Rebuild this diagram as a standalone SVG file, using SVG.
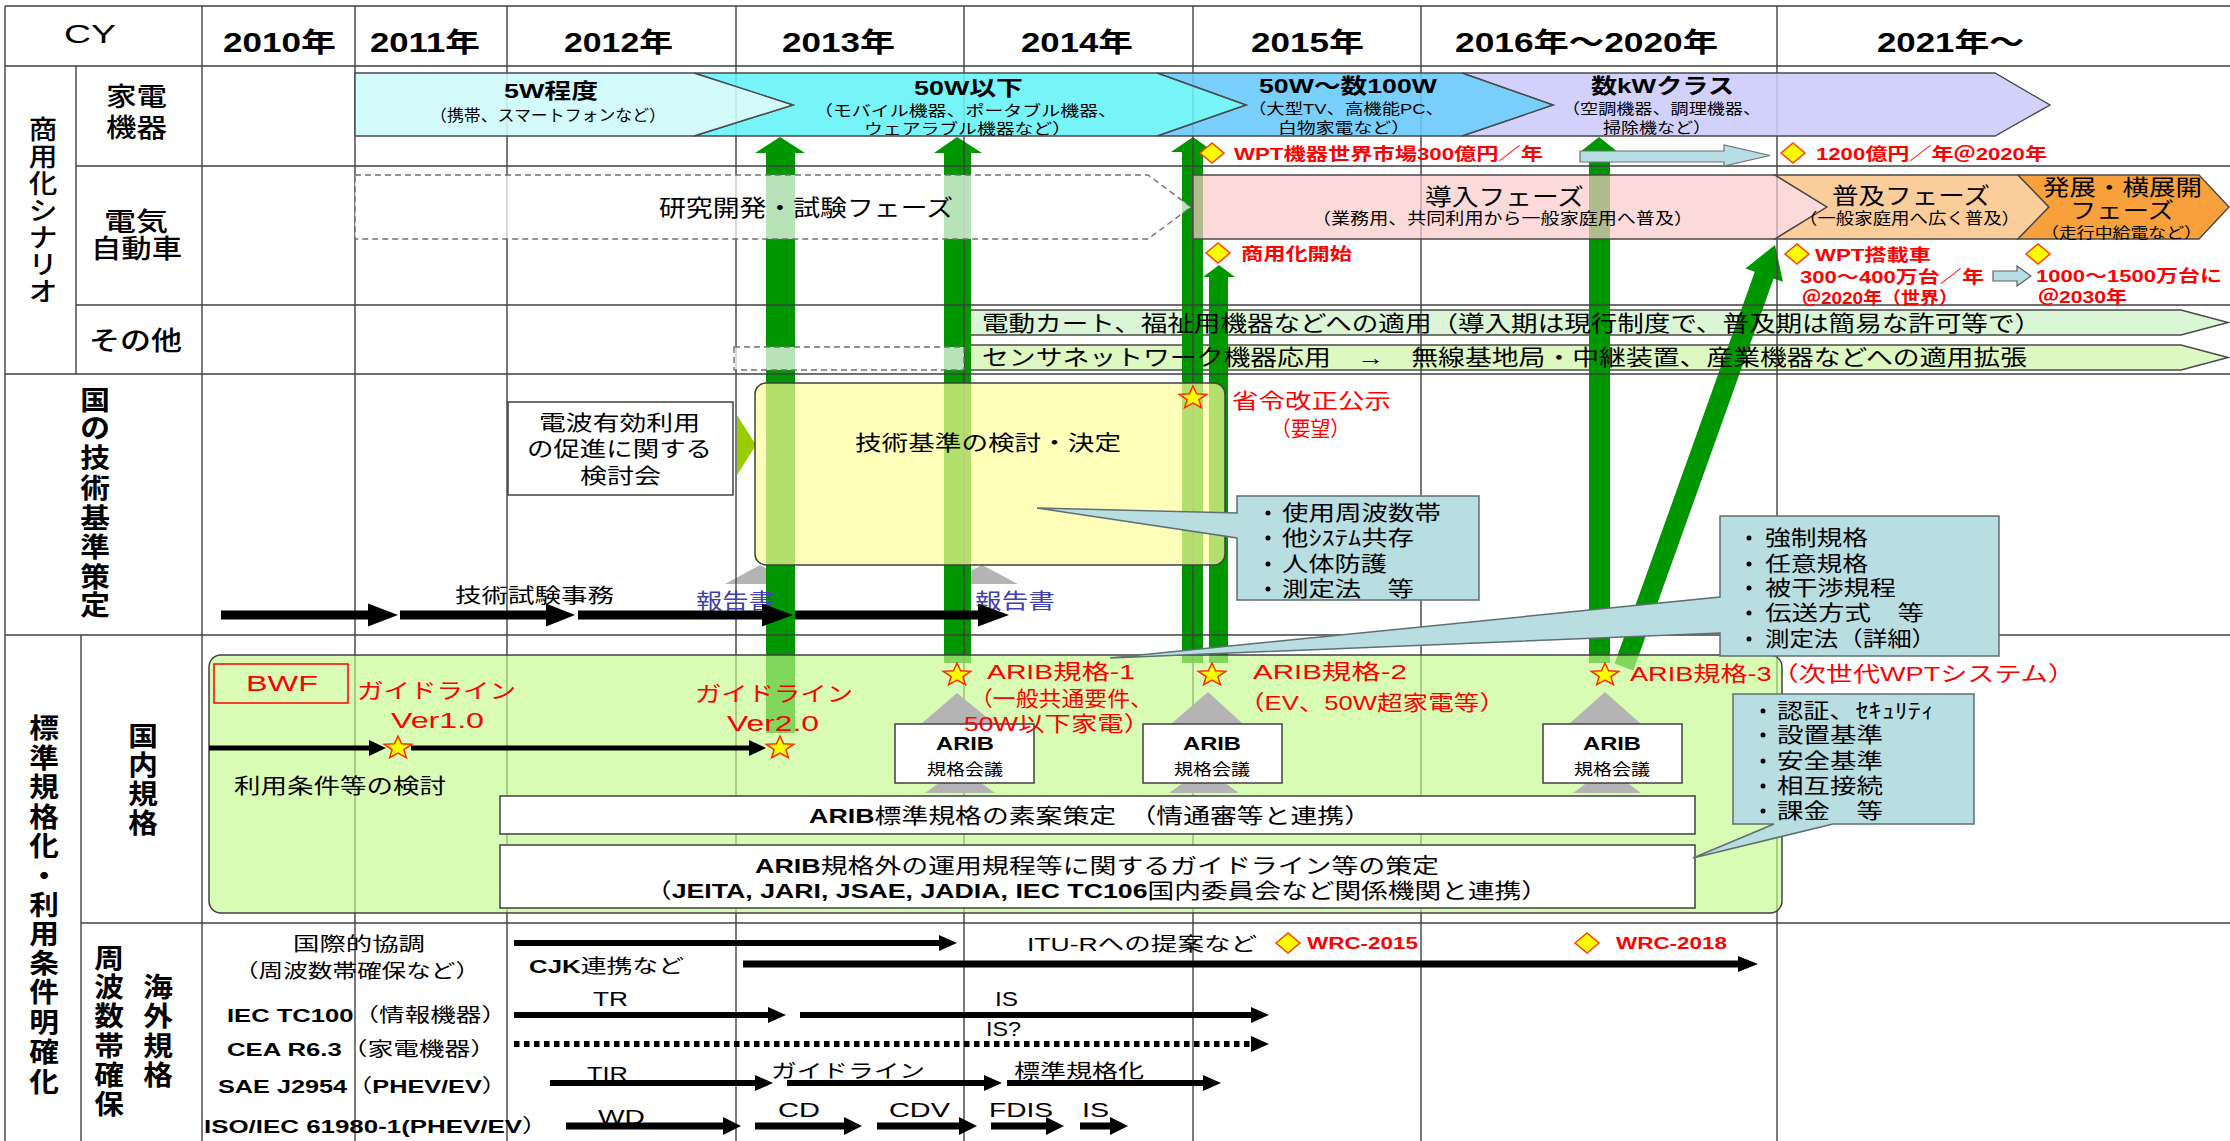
<svg xmlns="http://www.w3.org/2000/svg" width="2230" height="1141" viewBox="0 0 2230 1141">
<defs>
<style>
text{font-family:"Liberation Sans","Noto Sans CJK JP",sans-serif;fill:#000}
.b{font-weight:bold}
.md{font-weight:500}
.r{fill:#ff0000}
.bl{fill:#4040b0}
.m{text-anchor:middle}
.grid line{stroke:#404040;stroke-width:1.4}
.bar{stroke:#4a4a4a;stroke-width:1.4}
.ga{fill:#009600}
.ka{fill:#000}
.co{fill:#b9dee2;stroke:#5f6f72;stroke-width:1.5}
.tri{fill:#b4b4b4}
.wbox{fill:#fff;stroke:#404040;stroke-width:1.5}
.dash{fill:#fff;fill-opacity:.72;stroke:#707070;stroke-width:1.4;stroke-dasharray:6 4}
</style>
<path id="star" d="M0,-12 L3.6,-4.2 L13.7,-3.7 L5.9,1.6 L8.4,9.7 L0,5.1 L-8.4,9.7 L-5.9,1.6 L-13.7,-3.7 L-3.6,-4.2Z" fill="#ffff00" stroke="#ff2a00" stroke-width="1.5"/>
<path id="dia" d="M-12,0 L0,-10 L12,0 L0,10Z" fill="#ffff00" stroke="#ff4000" stroke-width="1.5"/>
</defs>

<rect width="2230" height="1141" fill="#fff"/>

<!-- その他 row bars (under the green arrows) -->
<g id="bar-cart">
<polygon class="bar" fill="#dbf6d6" points="964,310 2181,310 2228,322.5 2181,335 964,335"/>
</g>
<g id="bar-sensor">
<polygon class="bar" fill="#def8c2" points="964,345 2181,345 2228,357.5 2181,370 964,370"/>
</g>

<!-- report pointers sit under the green arrows -->
<g id="report-pointers">
<polygon class="tri" points="725,584 760,565 795,584"/>
<polygon class="tri" points="946,584 982,565 1018,584"/>
</g>

<!-- green progress arrows -->
<g id="connectors">
<polygon class="ga" points="766,733 766,153 755,153 780,137 805,153 795,153 795,733"/>
<polygon class="ga" points="944,663 944,153 934,153 957,137 982,153 971,153 971,663"/>
<polygon class="ga" points="1182,663 1182,152 1171,152 1193,137 1214,152 1203,152 1203,663"/>
<polygon class="ga" points="1209,663 1209,277 1203,277 1219,265 1235,277 1228,277 1228,663"/>
<polygon class="ga" points="1589,663 1589,152 1580,152 1599,137 1618,152 1610,152 1610,663"/>
<polygon class="ga" points="1614.6,663.6 1754.8,271.7 1745.4,268.4 1775,245 1783,281.8 1773.6,278.5 1633.4,670.4"/>
</g>

<!-- table grid -->
<g id="grid" class="grid">
<line x1="5" y1="6" x2="2230" y2="6"/>
<line x1="5" y1="66" x2="2230" y2="66"/>
<line x1="76" y1="166" x2="2230" y2="166"/>
<line x1="76" y1="305" x2="2230" y2="305"/>
<line x1="5" y1="374" x2="2230" y2="374"/>
<line x1="5" y1="635" x2="2230" y2="635"/>
<line x1="81" y1="923" x2="2230" y2="923"/>
<line x1="5" y1="6" x2="5" y2="1141"/>
<line x1="76" y1="66" x2="76" y2="374"/>
<line x1="81" y1="635" x2="81" y2="1141"/>
<line x1="202" y1="6" x2="202" y2="1141"/>
<line x1="355" y1="6" x2="355" y2="1141"/>
<line x1="507" y1="6" x2="507" y2="1141"/>
<line x1="736" y1="6" x2="736" y2="1141"/>
<line x1="964" y1="6" x2="964" y2="1141"/>
<line x1="1193" y1="6" x2="1193" y2="1141"/>
<line x1="1421" y1="6" x2="1421" y2="1141"/>
<line x1="1777" y1="6" x2="1777" y2="1141"/>
</g>

<!-- header row -->
<g id="header">
<text x="64" y="43" font-size="25" textLength="52" lengthAdjust="spacingAndGlyphs">CY</text>
<text class="b" x="223" y="52" font-size="27" textLength="113" lengthAdjust="spacingAndGlyphs">2010年</text>
<text class="b" x="370" y="52" font-size="27" textLength="110" lengthAdjust="spacingAndGlyphs">2011年</text>
<text class="b" x="564" y="52" font-size="27" textLength="109" lengthAdjust="spacingAndGlyphs">2012年</text>
<text class="b" x="782" y="52" font-size="27" textLength="113" lengthAdjust="spacingAndGlyphs">2013年</text>
<text class="b" x="1021" y="52" font-size="27" textLength="112" lengthAdjust="spacingAndGlyphs">2014年</text>
<text class="b" x="1251" y="52" font-size="27" textLength="113" lengthAdjust="spacingAndGlyphs">2015年</text>
<text class="b" x="1455" y="52" font-size="27" textLength="263" lengthAdjust="spacingAndGlyphs">2016年～2020年</text>
<text class="b" x="1877" y="52" font-size="27" textLength="147" lengthAdjust="spacingAndGlyphs">2021年～</text>
</g>

<!-- row labels -->
<g id="row-labels">
<text class="m md" font-size="26" transform="translate(43 0) scale(1.1 1)"><tspan x="0" y="139">商</tspan><tspan x="0" y="166">用</tspan><tspan x="0" y="193">化</tspan><tspan x="0" y="220">シ</tspan><tspan x="0" y="247">ナ</tspan><tspan x="0" y="274">リ</tspan><tspan x="0" y="301">オ</tspan></text>
<text class="md" x="106" y="106" font-size="26" textLength="61" lengthAdjust="spacingAndGlyphs">家電</text>
<text class="md" x="106" y="137" font-size="26" textLength="61" lengthAdjust="spacingAndGlyphs">機器</text>
<text class="md" x="104" y="231" font-size="26" textLength="64" lengthAdjust="spacingAndGlyphs">電気</text>
<text class="md" x="91" y="258" font-size="26" textLength="91" lengthAdjust="spacingAndGlyphs">自動車</text>
<text class="md" x="89" y="350" font-size="26" textLength="93" lengthAdjust="spacingAndGlyphs">その他</text>
<text class="m b" font-size="27" transform="translate(95 0) scale(1.1 1)"><tspan x="0" y="410">国</tspan><tspan x="0" y="438">の</tspan><tspan x="0" y="468">技</tspan><tspan x="0" y="498">術</tspan><tspan x="0" y="528">基</tspan><tspan x="0" y="557">準</tspan><tspan x="0" y="587">策</tspan><tspan x="0" y="615">定</tspan></text>
<text class="m b" font-size="27" transform="translate(44 0) scale(1.1 1)"><tspan x="0" y="738">標</tspan><tspan x="0" y="768">準</tspan><tspan x="0" y="797">規</tspan><tspan x="0" y="827">格</tspan><tspan x="0" y="856">化</tspan><tspan x="0" y="886">・</tspan><tspan x="0" y="915">利</tspan><tspan x="0" y="944">用</tspan><tspan x="0" y="973">条</tspan><tspan x="0" y="1002">件</tspan><tspan x="0" y="1032">明</tspan><tspan x="0" y="1062">確</tspan><tspan x="0" y="1092">化</tspan></text>
<text class="m b" font-size="27" transform="translate(143 0) scale(1.1 1)"><tspan x="0" y="746">国</tspan><tspan x="0" y="775">内</tspan><tspan x="0" y="804">規</tspan><tspan x="0" y="833">格</tspan></text>
<text class="m b" font-size="27" transform="translate(109 0) scale(1.1 1)"><tspan x="0" y="968">周</tspan><tspan x="0" y="997">波</tspan><tspan x="0" y="1026">数</tspan><tspan x="0" y="1056">帯</tspan><tspan x="0" y="1085">確</tspan><tspan x="0" y="1114">保</tspan></text>
<text class="m b" font-size="27" transform="translate(158 0) scale(1.1 1)"><tspan x="0" y="997">海</tspan><tspan x="0" y="1026">外</tspan><tspan x="0" y="1056">規</tspan><tspan x="0" y="1085">格</tspan></text>
</g>

<!-- appliance power classes -->
<g id="appliance-kw">
<polygon class="bar" fill="#cbcbfa" fill-opacity=".88" points="1462,73 1995,73 2050,105 1995,136 1462,136 1553,105"/>
<text class="b" x="1591" y="93" font-size="21" textLength="143" lengthAdjust="spacingAndGlyphs">数kWクラス</text>
<text x="1562" y="114" font-size="15" textLength="199" lengthAdjust="spacingAndGlyphs">（空調機器、調理機器、</text>
<text x="1603" y="133" font-size="15" textLength="108" lengthAdjust="spacingAndGlyphs">掃除機など）</text>
</g>
<g id="appliance-100w">
<polygon class="bar" fill="#66c8fa" fill-opacity=".88" points="1157,73 1462,73 1553,105 1462,136 1157,136 1246,105"/>
<text class="b" x="1259" y="93" font-size="21" textLength="178" lengthAdjust="spacingAndGlyphs">50W～数100W</text>
<text x="1248" y="114" font-size="15" textLength="196" lengthAdjust="spacingAndGlyphs">（大型TV、高機能PC、</text>
<text x="1278" y="133" font-size="15" textLength="132" lengthAdjust="spacingAndGlyphs">白物家電など）</text>
</g>
<g id="appliance-50w">
<polygon class="bar" fill="#63f3f7" fill-opacity=".88" points="694,73 1157,73 1246,105 1157,136 694,136 793,105"/>
<text class="b" x="914" y="95" font-size="21" textLength="109" lengthAdjust="spacingAndGlyphs">50W以下</text>
<text x="814" y="116" font-size="15" textLength="303" lengthAdjust="spacingAndGlyphs">（モバイル機器、ポータブル機器、</text>
<text x="864" y="134" font-size="15" textLength="207" lengthAdjust="spacingAndGlyphs">ウェアラブル機器など）</text>
</g>
<g id="appliance-5w">
<polygon class="bar" fill="#cdfafb" fill-opacity=".88" points="355,73 694,73 793,105 694,136 355,136"/>
<text class="b" x="504" y="98" font-size="21" textLength="94" lengthAdjust="spacingAndGlyphs">5W程度</text>
<text x="430" y="121" font-size="16" textLength="236" lengthAdjust="spacingAndGlyphs">（携帯、スマートフォンなど）</text>
</g>

<!-- appliance market milestones -->
<g id="appliance-market">
<use href="#dia" x="1212" y="153"/>
<text class="b r" x="1234" y="160" font-size="17" textLength="309" lengthAdjust="spacingAndGlyphs">WPT機器世界市場300億円／年</text>
<polygon fill="#b7dde5" stroke="#707070" stroke-width="1.2" points="1580,151 1724,151 1724,145 1770,155.5 1724,166 1724,162 1580,162"/>
<use href="#dia" x="1793" y="153"/>
<text class="b r" x="1816" y="160" font-size="17" textLength="231" lengthAdjust="spacingAndGlyphs">1200億円／年＠2020年</text>
</g>

<!-- EV phases -->
<g id="ev-research">
<polygon class="dash" points="355,175 1148,175 1191,207 1148,239 355,239"/>
<text x="659" y="216" font-size="23" textLength="294" lengthAdjust="spacingAndGlyphs">研究開発・試験フェーズ</text>
</g>
<g id="ev-intro">
<polygon class="bar" fill="#fbcaca" fill-opacity=".7" points="1193,175 1775,175 1827,207 1775,239 1193,239"/>
<text x="1425" y="205" font-size="23" textLength="159" lengthAdjust="spacingAndGlyphs">導入フェーズ</text>
<text x="1312" y="224" font-size="16" textLength="381" lengthAdjust="spacingAndGlyphs">（業務用、共同利用から一般家庭用へ普及）</text>
</g>
<g id="ev-spread">
<polygon class="bar" fill="#fbcd9b" points="1775,175 2018,175 2049,207 2018,239 1775,239 1827,207"/>
<text x="1832" y="204" font-size="23" textLength="158" lengthAdjust="spacingAndGlyphs">普及フェーズ</text>
<text x="1799" y="224" font-size="16" textLength="221" lengthAdjust="spacingAndGlyphs">（一般家庭用へ広く普及）</text>
</g>
<g id="ev-expand">
<polygon class="bar" fill="#f8a03c" points="2018,175 2199,175 2229,207 2199,239 2018,239 2049,207"/>
<text x="2043" y="195" font-size="22" textLength="159" lengthAdjust="spacingAndGlyphs">発展・横展開</text>
<text x="2070" y="218" font-size="22" textLength="104" lengthAdjust="spacingAndGlyphs">フェーズ</text>
<text x="2041" y="238" font-size="15" textLength="161" lengthAdjust="spacingAndGlyphs">（走行中給電など）</text>
</g>
<g id="ev-milestones">
<use href="#dia" x="1218" y="253"/>
<text class="b r" x="1241" y="260" font-size="17" textLength="111" lengthAdjust="spacingAndGlyphs">商用化開始</text>
<use href="#dia" x="1797" y="254"/>
<text class="b r" x="1815" y="261" font-size="17" textLength="116" lengthAdjust="spacingAndGlyphs">WPT搭載車</text>
<text class="b r" x="1800" y="283" font-size="17" textLength="184" lengthAdjust="spacingAndGlyphs">300～400万台／年</text>
<text class="b r" x="1802" y="304" font-size="17" textLength="156" lengthAdjust="spacingAndGlyphs">＠2020年（世界）</text>
<polygon fill="#b7dde5" stroke="#606060" stroke-width="1.2" points="1993,271 2017,271 2017,266 2031,276 2017,286 2017,281 1993,281"/>
<use href="#dia" x="2038" y="254"/>
<text class="b r" x="2036" y="282" font-size="17" textLength="186" lengthAdjust="spacingAndGlyphs">1000～1500万台に</text>
<text class="b r" x="2038" y="303" font-size="17" textLength="89" lengthAdjust="spacingAndGlyphs">＠2030年</text>
</g>

<!-- その他 texts -->
<g id="other-texts">
<text x="982" y="331" font-size="22" textLength="1059" lengthAdjust="spacingAndGlyphs">電動カート、福祉用機器などへの適用（導入期は現行制度で、普及期は簡易な許可等で）</text>
<rect class="dash" x="734" y="347" width="230" height="23"/>
<text x="982" y="365" font-size="22" textLength="1045" lengthAdjust="spacingAndGlyphs">センサネットワーク機器応用　→　無線基地局・中継装置、産業機器などへの適用拡張</text>
</g>

<!-- national technical standard -->
<g id="study-group">
<rect class="wbox" x="508" y="402" width="225" height="93"/>
<text x="539" y="430" font-size="21" textLength="161" lengthAdjust="spacingAndGlyphs">電波有効利用</text>
<text x="527" y="456" font-size="21" textLength="185" lengthAdjust="spacingAndGlyphs">の促進に関する</text>
<text x="580" y="483" font-size="21" textLength="81" lengthAdjust="spacingAndGlyphs">検討会</text>
<polygon fill="#9acd00" points="737,415 756,445 737,475"/>
</g>
<g id="tech-standard">
<rect x="755" y="383" width="470" height="182" rx="11" fill="#ffff9b" fill-opacity=".7" stroke="#404040" stroke-width="1.5"/>
<text x="855" y="450" font-size="21" textLength="266" lengthAdjust="spacingAndGlyphs">技術基準の検討・決定</text>
</g>
<g id="reports">
<text class="bl" x="696" y="608" font-size="21" textLength="79" lengthAdjust="spacingAndGlyphs">報告書</text>
<text class="bl" x="975" y="608" font-size="21" textLength="80" lengthAdjust="spacingAndGlyphs">報告書</text>
</g>
<g id="callout-items">
<path class="co" d="M1237,496 L1479,496 L1479,600 L1237,600 L1237,538 L1037,508 L1237,513 Z"/>
<circle cx="1268" cy="513" r="2.5"/><circle cx="1268" cy="538" r="2.5"/><circle cx="1268" cy="564" r="2.5"/><circle cx="1268" cy="589" r="2.5"/>
<text x="1282" y="520" font-size="21" textLength="159" lengthAdjust="spacingAndGlyphs">使用周波数帯</text>
<text x="1282" y="545" font-size="21" textLength="132" lengthAdjust="spacingAndGlyphs">他ｼｽﾃﾑ共存</text>
<text x="1282" y="571" font-size="21" textLength="105" lengthAdjust="spacingAndGlyphs">人体防護</text>
<text x="1282" y="596" font-size="21" textLength="132" lengthAdjust="spacingAndGlyphs">測定法　等</text>
</g>
<g id="ordinance">
<use href="#star" x="1193" y="398"/>
<text class="r" x="1232" y="408" font-size="21" textLength="159" lengthAdjust="spacingAndGlyphs">省令改正公示</text>
<text class="r" x="1271" y="436" font-size="21" textLength="79" lengthAdjust="spacingAndGlyphs">（要望）</text>
</g>
<g id="tech-test">
<text x="455" y="603" font-size="20" textLength="159" lengthAdjust="spacingAndGlyphs">技術試験事務</text>
<polygon class="ka" points="221,610.5 368,610.5 368,603.5 398,615 368,626.5 368,619.5 221,619.5"/>
<polygon class="ka" points="400,610.5 546,610.5 546,603.5 575,615 546,626.5 546,619.5 400,619.5"/>
<polygon class="ka" points="578,610.5 762,610.5 762,603.5 793,615 762,626.5 762,619.5 578,619.5"/>
<polygon class="ka" points="795,610.5 978,610.5 978,603.5 1009,615 978,626.5 978,619.5 795,619.5"/>
</g>

<!-- domestic standards -->
<g id="domestic">
<rect x="209" y="655" width="1573" height="258" rx="12" fill="#c5fb8c" fill-opacity=".65" stroke="#404040" stroke-width="1.5"/>
</g>
<g id="bwf">
<rect x="214" y="664" width="134" height="39" fill="none" stroke="#ff0000" stroke-width="1.5"/>
<text class="r" x="246" y="691" font-size="22" textLength="72" lengthAdjust="spacingAndGlyphs">BWF</text>
<text class="r" x="357" y="698" font-size="21" textLength="159" lengthAdjust="spacingAndGlyphs">ガイドライン</text>
<text class="r" x="391" y="728" font-size="22" textLength="93" lengthAdjust="spacingAndGlyphs">Ver1.0</text>
<text class="r" x="695" y="701" font-size="21" textLength="158" lengthAdjust="spacingAndGlyphs">ガイドライン</text>
<text class="r" x="727" y="731" font-size="22" textLength="92" lengthAdjust="spacingAndGlyphs">Ver2.0</text>
<polygon class="ka" points="209,745.5 369,745.5 369,740 386,748 369,756 369,750.5 209,750.5"/>
<polygon class="ka" points="411,745.5 749,745.5 749,740 766,748 749,756 749,750.5 411,750.5"/>
<use href="#star" x="398" y="748"/>
<use href="#star" x="780" y="748"/>
<text x="234" y="793" font-size="21" textLength="212" lengthAdjust="spacingAndGlyphs">利用条件等の検討</text>
</g>
<g id="arib-meetings">
<polygon class="tri" points="925,793 960,768 995,793"/>
<polygon class="tri" points="1169,793 1204,768 1239,793"/>
<polygon class="tri" points="1573,793 1607,768 1641,793"/>
<polygon class="tri" points="921,724 957,693 995,724"/>
<polygon class="tri" points="1171,724 1208,692 1243,724"/>
<polygon class="tri" points="1569,724 1605,692 1641,724"/>
<rect class="wbox" x="895" y="724" width="139" height="59"/>
<rect class="wbox" x="1143" y="724" width="139" height="59"/>
<rect class="wbox" x="1543" y="724" width="139" height="59"/>
<text class="b" x="936" y="750" font-size="19" textLength="58" lengthAdjust="spacingAndGlyphs">ARIB</text>
<text x="927" y="775" font-size="16" textLength="76" lengthAdjust="spacingAndGlyphs">規格会議</text>
<text class="b" x="1183" y="750" font-size="19" textLength="58" lengthAdjust="spacingAndGlyphs">ARIB</text>
<text x="1174" y="775" font-size="16" textLength="76" lengthAdjust="spacingAndGlyphs">規格会議</text>
<text class="b" x="1583" y="750" font-size="19" textLength="58" lengthAdjust="spacingAndGlyphs">ARIB</text>
<text x="1574" y="775" font-size="16" textLength="76" lengthAdjust="spacingAndGlyphs">規格会議</text>
</g>
<g id="arib-standards">
<use href="#star" x="957" y="675"/>
<text class="r" x="987" y="679" font-size="21" textLength="148" lengthAdjust="spacingAndGlyphs">ARIB規格-1</text>
<text class="r" x="970" y="706" font-size="21" textLength="183" lengthAdjust="spacingAndGlyphs">（一般共通要件、</text>
<text class="r" x="964" y="731" font-size="21" textLength="186" lengthAdjust="spacingAndGlyphs">50W以下家電）</text>
<use href="#star" x="1212" y="675"/>
<text class="r" x="1253" y="679" font-size="21" textLength="154" lengthAdjust="spacingAndGlyphs">ARIB規格-2</text>
<text class="r" x="1239" y="710" font-size="21" textLength="266" lengthAdjust="spacingAndGlyphs">（EV、50W超家電等）</text>
<use href="#star" x="1605" y="675"/>
<text class="r" x="1630" y="681" font-size="21" textLength="445" lengthAdjust="spacingAndGlyphs">ARIB規格-3（次世代WPTシステム）</text>
</g>
<g id="arib-draft">
<rect class="wbox" x="500" y="796" width="1195" height="38"/>
<text x="809" y="823" font-size="21" textLength="562" lengthAdjust="spacingAndGlyphs"><tspan class="b">ARIB</tspan>標準規格の素案策定　（情通審等と連携）</text>
</g>
<g id="guideline-draft">
<rect class="wbox" x="500" y="845" width="1195" height="63"/>
<text x="755" y="873" font-size="21" textLength="684" lengthAdjust="spacingAndGlyphs"><tspan class="b">ARIB</tspan>規格外の運用規程等に関するガイドライン等の策定</text>
<text x="645" y="898" font-size="21" textLength="903" lengthAdjust="spacingAndGlyphs">（<tspan class="b">JEITA, JARI, JSAE, JADIA, IEC TC106</tspan>国内委員会など関係機関と連携）</text>
</g>
<g id="callout-regulation">
<path class="co" d="M1720,516 L1999,516 L1999,656 L1720,656 L1720,633 L1110,658 L1720,597 Z"/>
<circle cx="1749" cy="538" r="2.5"/><circle cx="1749" cy="564" r="2.5"/><circle cx="1749" cy="588" r="2.5"/><circle cx="1749" cy="613" r="2.5"/><circle cx="1749" cy="639" r="2.5"/>
<text x="1765" y="545" font-size="21" textLength="103" lengthAdjust="spacingAndGlyphs">強制規格</text>
<text x="1765" y="571" font-size="21" textLength="103" lengthAdjust="spacingAndGlyphs">任意規格</text>
<text x="1765" y="595" font-size="21" textLength="131" lengthAdjust="spacingAndGlyphs">被干渉規程</text>
<text x="1765" y="620" font-size="21" textLength="159" lengthAdjust="spacingAndGlyphs">伝送方式　等</text>
<text x="1765" y="646" font-size="21" textLength="171" lengthAdjust="spacingAndGlyphs">測定法（詳細）</text>
</g>
<g id="callout-operation">
<path class="co" d="M1733,694 L1974,694 L1974,824 L1833,824 L1693,858 L1774,824 L1733,824 Z"/>
<circle cx="1763" cy="711" r="2.5"/><circle cx="1763" cy="735" r="2.5"/><circle cx="1763" cy="761" r="2.5"/><circle cx="1763" cy="786" r="2.5"/><circle cx="1763" cy="811" r="2.5"/>
<text x="1777" y="718" font-size="21" textLength="157" lengthAdjust="spacingAndGlyphs">認証、ｾｷｭﾘﾃｨ</text>
<text x="1777" y="742" font-size="21" textLength="106" lengthAdjust="spacingAndGlyphs">設置基準</text>
<text x="1777" y="768" font-size="21" textLength="106" lengthAdjust="spacingAndGlyphs">安全基準</text>
<text x="1777" y="793" font-size="21" textLength="106" lengthAdjust="spacingAndGlyphs">相互接続</text>
<text x="1777" y="818" font-size="21" textLength="106" lengthAdjust="spacingAndGlyphs">課金　等</text>
</g>

<!-- overseas standards / spectrum -->
<g id="intl-coordination">
<text x="293" y="951" font-size="19" textLength="132" lengthAdjust="spacingAndGlyphs">国際的協調</text>
<text x="234" y="978" font-size="19" textLength="246" lengthAdjust="spacingAndGlyphs">（周波数帯確保など）</text>
<polygon class="ka" points="514,940 939,940 939,935 957,943 939,951 939,946 514,946"/>
<text x="1027" y="951" font-size="19" textLength="230" lengthAdjust="spacingAndGlyphs">ITU-Rへの提案など</text>
<use href="#dia" x="1288" y="943"/>
<text class="b r" x="1307" y="949" font-size="16" textLength="111" lengthAdjust="spacingAndGlyphs">WRC-2015</text>
<use href="#dia" x="1587" y="943"/>
<text class="b r" x="1616" y="949" font-size="16" textLength="111" lengthAdjust="spacingAndGlyphs">WRC-2018</text>
<text x="529" y="973" font-size="19" textLength="155" lengthAdjust="spacingAndGlyphs"><tspan class="b">CJK</tspan>連携など</text>
<polygon class="ka" points="743,960.5 1738,960.5 1738,956 1758,964 1738,972 1738,967.5 743,967.5"/>
</g>
<g id="iec-tc100">
<text x="227" y="1022" font-size="19" textLength="280" lengthAdjust="spacingAndGlyphs"><tspan class="b">IEC TC100</tspan>（情報機器）</text>
<text x="593" y="1006" font-size="21" textLength="35" lengthAdjust="spacingAndGlyphs">TR</text>
<polygon class="ka" points="514,1012 768,1012 768,1007 786,1015 768,1023 768,1018 514,1018"/>
<text x="995" y="1006" font-size="21" textLength="23" lengthAdjust="spacingAndGlyphs">IS</text>
<polygon class="ka" points="800,1012 1251,1012 1251,1007 1269,1015 1251,1023 1251,1018 800,1018"/>
</g>
<g id="cea">
<text x="227" y="1056" font-size="19" textLength="269" lengthAdjust="spacingAndGlyphs"><tspan class="b">CEA R6.3</tspan>（家電機器）</text>
<text x="986" y="1036" font-size="21" textLength="35" lengthAdjust="spacingAndGlyphs">IS?</text>
<line x1="514" y1="1044" x2="1250" y2="1044" stroke="#000" stroke-width="6" stroke-dasharray="5.5 4.5"/>
<polygon class="ka" points="1251,1036 1269,1044 1251,1052"/>
</g>
<g id="sae">
<text x="218" y="1093" font-size="19" textLength="289" lengthAdjust="spacingAndGlyphs"><tspan class="b">SAE J2954</tspan>（<tspan class="b">PHEV/EV</tspan>）</text>
<text x="587" y="1081" font-size="21" textLength="41" lengthAdjust="spacingAndGlyphs">TIR</text>
<polygon class="ka" points="550,1080 755,1080 755,1075 773,1083 755,1091 755,1086 550,1086"/>
<text x="771" y="1078" font-size="19" textLength="154" lengthAdjust="spacingAndGlyphs">ガイドライン</text>
<polygon class="ka" points="787,1080 984,1080 984,1075 1002,1083 984,1091 984,1086 787,1086"/>
<text x="1014" y="1078" font-size="19" textLength="130" lengthAdjust="spacingAndGlyphs">標準規格化</text>
<polygon class="ka" points="1007,1080 1203,1080 1203,1075 1221,1083 1203,1091 1203,1086 1007,1086"/>
</g>
<g id="iso-iec">
<text class="b" x="204" y="1133" font-size="19" textLength="344" lengthAdjust="spacingAndGlyphs">ISO/IEC 61980-1(PHEV/EV<tspan font-weight="normal">）</tspan></text>
<text x="598" y="1124" font-size="21" textLength="47" lengthAdjust="spacingAndGlyphs">WD</text>
<polygon class="ka" points="566,1122.5 723,1122.5 723,1117 741,1126 723,1135 723,1129.5 566,1129.5"/>
<text x="778" y="1117" font-size="21" textLength="42" lengthAdjust="spacingAndGlyphs">CD</text>
<polygon class="ka" points="755,1122.5 844,1122.5 844,1117 862,1126 844,1135 844,1129.5 755,1129.5"/>
<text x="889" y="1117" font-size="21" textLength="61" lengthAdjust="spacingAndGlyphs">CDV</text>
<polygon class="ka" points="877,1122.5 959,1122.5 959,1117 977,1126 959,1135 959,1129.5 877,1129.5"/>
<text x="989" y="1117" font-size="21" textLength="64" lengthAdjust="spacingAndGlyphs">FDIS</text>
<polygon class="ka" points="991,1122.5 1046,1122.5 1046,1117 1064,1126 1046,1135 1046,1129.5 991,1129.5"/>
<text x="1082" y="1117" font-size="21" textLength="27" lengthAdjust="spacingAndGlyphs">IS</text>
<polygon class="ka" points="1080,1122.5 1110,1122.5 1110,1117 1128,1126 1110,1135 1110,1129.5 1080,1129.5"/>
</g>
</svg>
